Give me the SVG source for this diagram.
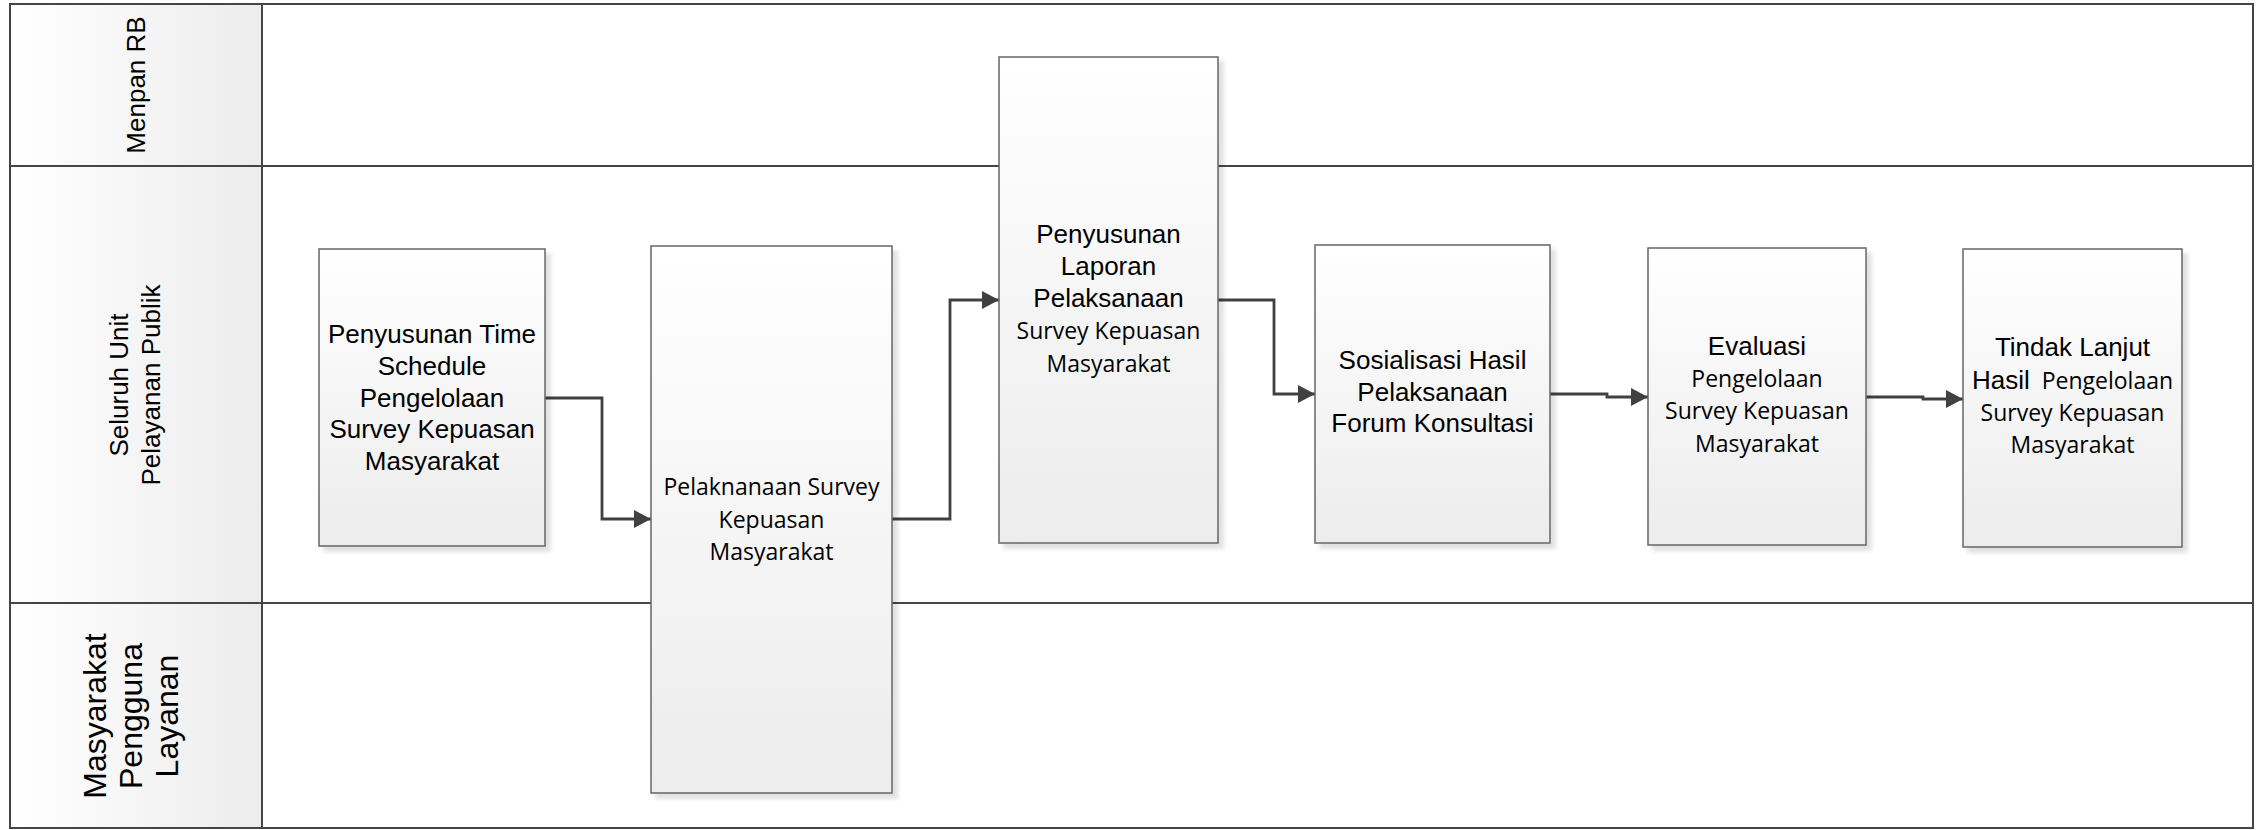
<svg xmlns="http://www.w3.org/2000/svg" width="2256" height="830" viewBox="0 0 2256 830">
<style>
.lane{fill:none;stroke:#454545;stroke-width:2}
.box{fill:url(#boxg);stroke:#666;stroke-width:1.5}
.t{font-family:"Liberation Sans",Arial,sans-serif;font-size:26px;fill:#000;text-anchor:middle}
.c{font-family:"Open Sans","Noto Sans",sans-serif;font-size:23px;fill:#000;text-anchor:middle}
.lt{font-family:"Liberation Sans",Arial,sans-serif;font-size:26px;fill:#000;text-anchor:middle}
.lb{font-family:"Liberation Sans",Arial,sans-serif;font-size:32px;fill:#000;text-anchor:middle}
.con{fill:none;stroke:#404040;stroke-width:2.8;marker-end:url(#arr)}
</style>
<defs>
<linearGradient id="boxg" x1="0" y1="0" x2="0" y2="1">
<stop offset="0" stop-color="#ffffff"/>
<stop offset="1" stop-color="#ececec"/>
</linearGradient>
<linearGradient id="hdrg" x1="0" y1="0" x2="1" y2="0">
<stop offset="0" stop-color="#ffffff"/>
<stop offset="1" stop-color="#ececec"/>
</linearGradient>
<filter id="sh" x="-10%" y="-10%" width="130%" height="130%">
<feDropShadow dx="5" dy="5" stdDeviation="2" flood-color="#000" flood-opacity="0.12"/>
</filter>
<marker id="arr" markerUnits="userSpaceOnUse" markerWidth="20" markerHeight="20" refX="17" refY="9" orient="auto" viewBox="0 0 20 20">
<path d="M0,0 L17,9 L0,18 Z" fill="#404040"/>
</marker>
</defs>

<g id="pool">
<rect x="10" y="4" width="252" height="824" fill="url(#hdrg)"/>
<rect class="lane" x="10" y="4" width="2243" height="824"/>
<line class="lane" x1="262" y1="4" x2="262" y2="828"/>
<line class="lane" x1="10" y1="166" x2="2253" y2="166"/>
<line class="lane" x1="10" y1="603" x2="2253" y2="603"/>
</g>

<g id="lane-menpan">
<text class="lt" x="145" y="85" transform="rotate(-90 145 85)">Menpan RB</text>
</g>
<g id="lane-unit">
<text class="lt" x="128" y="385" transform="rotate(-90 128 385)">Seluruh Unit</text>
<text class="lt" x="160" y="385" transform="rotate(-90 160 385)">Pelayanan Publik</text>
</g>
<g id="lane-masyarakat">
<text class="lb" x="106" y="716" transform="rotate(-90 106 716)">Masyarakat</text>
<text class="lb" x="142" y="716" transform="rotate(-90 142 716)">Pengguna</text>
<text class="lb" x="178" y="716" transform="rotate(-90 178 716)">Layanan</text>
</g>

<g id="connectors">
<path class="con" d="M545,398 H602 V519 H651"/>
<path class="con" d="M892,519 H950 V300 H999"/>
<path class="con" d="M1218,300 H1274 V394 H1315"/>
<path class="con" d="M1550,394 H1607 V397 H1648"/>
<path class="con" d="M1866,397 H1923 V399 H1963"/>
</g>

<g id="n1">
<rect class="box" x="319" y="249" width="226" height="297" filter="url(#sh)"/>
<text class="t" x="432" y="343">Penyusunan Time</text>
<text class="t" x="432" y="375">Schedule</text>
<text class="t" x="432" y="406.5">Pengelolaan</text>
<text class="t" x="432" y="438">Survey Kepuasan</text>
<text class="t" x="432" y="470">Masyarakat</text>
</g>

<g id="n2">
<rect class="box" x="651" y="246" width="241" height="547" filter="url(#sh)"/>
<text class="c" x="771.5" y="495">Pelaknanaan Survey</text>
<text class="c" x="771.5" y="528">Kepuasan</text>
<text class="c" x="771.5" y="560">Masyarakat</text>
</g>

<g id="n3">
<rect class="box" x="999" y="57" width="219" height="486" filter="url(#sh)"/>
<text class="t" x="1108.5" y="242.5">Penyusunan</text>
<text class="t" x="1108.5" y="275">Laporan</text>
<text class="t" x="1108.5" y="307">Pelaksanaan</text>
<text class="c" x="1108.5" y="339">Survey Kepuasan</text>
<text class="c" x="1108.5" y="371.5">Masyarakat</text>
</g>

<g id="n4">
<rect class="box" x="1315" y="245" width="235" height="298" filter="url(#sh)"/>
<text class="t" x="1432.5" y="369">Sosialisasi Hasil</text>
<text class="t" x="1432.5" y="401">Pelaksanaan</text>
<text class="t" x="1432.5" y="432">Forum Konsultasi</text>
</g>

<g id="n5">
<rect class="box" x="1648" y="248" width="218" height="297" filter="url(#sh)"/>
<text class="t" x="1757" y="355">Evaluasi</text>
<text class="c" x="1757" y="387">Pengelolaan</text>
<text class="c" x="1757" y="419">Survey Kepuasan</text>
<text class="c" x="1757" y="452">Masyarakat</text>
</g>

<g id="n6">
<rect class="box" x="1963" y="249" width="219" height="298" filter="url(#sh)"/>
<text class="t" x="2072.5" y="356">Tindak Lanjut</text>
<text class="t" x="2072.5" y="389">Hasil<tspan font-family="Open Sans, Noto Sans, sans-serif" font-size="23" dx="12">Pengelolaan</tspan></text>
<text class="c" x="2072.5" y="421">Survey Kepuasan</text>
<text class="c" x="2072.5" y="453">Masyarakat</text>
</g>
</svg>
